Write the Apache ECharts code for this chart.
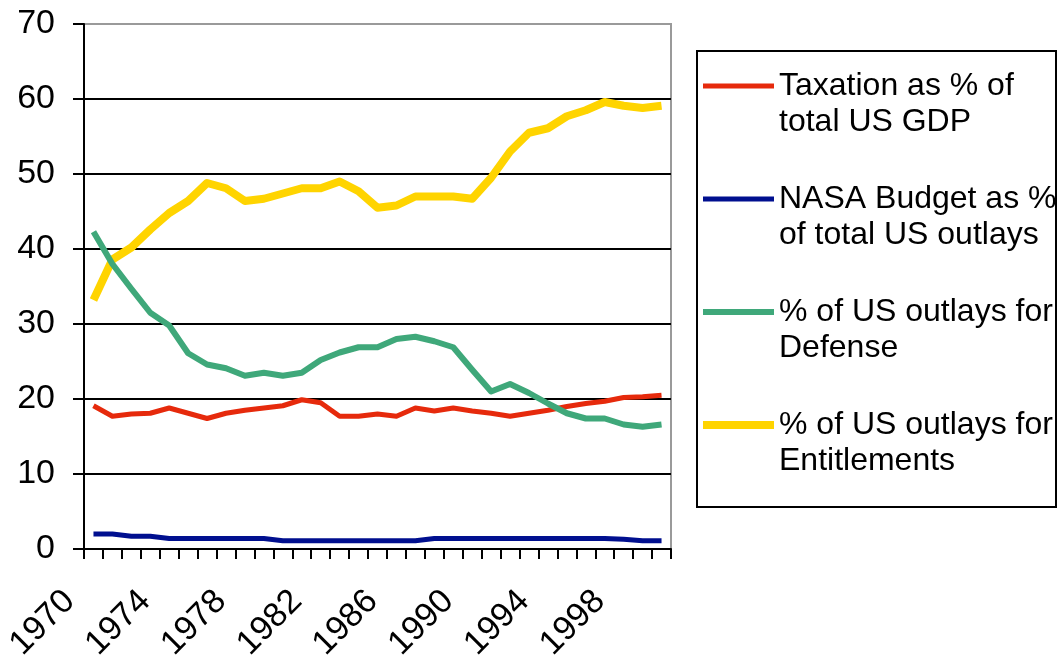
<!DOCTYPE html>
<html>
<head>
<meta charset="utf-8">
<script src="https://cdn.jsdelivr.net/npm/echarts@6/dist/echarts.min.js"></script>
<style>
  html, body { margin: 0; padding: 0; background: #fff; }
  #chart { width: 1058px; height: 656px; }
</style>
</head>
<body>
<div id="chart"></div>
<script>
// Fiscal year categories
const years = [];
for (let y = 1970; y <= 2000; y++) years.push(String(y));

// Series values (percent)
const taxation = [19.1, 17.7, 18.0, 18.1, 18.8, 18.1, 17.4, 18.1, 18.5, 18.8, 19.1, 19.9, 19.5, 17.7, 17.7, 18.0,
                  17.7, 18.8, 18.4, 18.8, 18.4, 18.1, 17.7, 18.1, 18.5, 19.0, 19.4, 19.7, 20.2, 20.3, 20.5];
const nasa = [2.0, 2.0, 1.7, 1.7, 1.4, 1.4, 1.4, 1.4, 1.4, 1.4, 1.1, 1.1, 1.1, 1.1, 1.1, 1.1,
              1.1, 1.1, 1.4, 1.4, 1.4, 1.4, 1.4, 1.4, 1.4, 1.4, 1.4, 1.4, 1.3, 1.1, 1.1];
const defense = [42.3, 38.0, 34.7, 31.5, 29.8, 26.1, 24.6, 24.1, 23.1, 23.5, 23.1, 23.5, 25.2, 26.2, 26.9, 26.9,
                 28.0, 28.3, 27.7, 26.9, 23.9, 21.0, 22.0, 20.8, 19.4, 18.1, 17.4, 17.4, 16.6, 16.3, 16.6];
const entitlements = [33.2, 38.6, 40.2, 42.6, 44.8, 46.4, 48.8, 48.1, 46.4, 46.7, 47.4, 48.1, 48.1, 49.0, 47.7, 45.5,
                      45.8, 47.0, 47.0, 47.0, 46.7, 49.5, 53.0, 55.5, 56.1, 57.7, 58.5, 59.6, 59.1, 58.8, 59.1];

const names = [
  'Taxation as % of\ntotal US GDP',
  'NASA Budget as %\nof total US outlays',
  '% of US outlays for\nDefense',
  '% of US outlays for\nEntitlements'
];
const colors = ['#E62A0C', '#000F8F', '#3FA87A', '#FFD400'];
const widths = [5, 5, 6, 8];

const FONT = '"Liberation Sans", Arial, sans-serif';
const chart = echarts.init(document.getElementById('chart'), null, { renderer: 'canvas' });

function lineSeries(i, data) {
  return {
    name: names[i], type: 'line', data,
    symbol: 'none', smooth: false,
    lineStyle: { color: colors[i], width: widths[i], join: 'round' },
    itemStyle: { color: colors[i] },
    emphasis: { disabled: true }
  };
}

// Legend swatch: a flat bar as thick as the series line
function swatch(i) {
  return 'path://M0 0H71V' + widths[i] + 'H0Z';
}

chart.setOption({
  animation: false,
  backgroundColor: '#fff',
  grid: {
    left: 84, top: 24, right: 387, bottom: 107,
    outerBoundsMode: 'none',
    containLabel: false,
    show: true, borderColor: '#9a9a9a', borderWidth: 2, backgroundColor: 'transparent'
  },
  xAxis: {
    type: 'category',
    data: years,
    boundaryGap: true,
    axisLine: { lineStyle: { color: '#000', width: 2 } },
    axisTick: { show: true, interval: 0, length: 10, lineStyle: { color: '#000', width: 2 } },
    axisLabel: {
      interval: 3, rotate: 45, color: '#000', fontSize: 34, fontFamily: FONT,
      margin: 23, padding: [0, 34, 0, 0]
    },
    splitLine: { show: false }
  },
  yAxis: {
    type: 'value',
    min: 0, max: 70, interval: 10,
    axisLine: { show: true, lineStyle: { color: '#000', width: 2 } },
    axisTick: { show: true, length: 11, lineStyle: { color: '#000', width: 2 } },
    axisLabel: { color: '#000', fontSize: 34, fontFamily: FONT, margin: 29 },
    splitLine: { show: true, showMaxLine: false, lineStyle: { color: '#000', width: 2 } }
  },
  legend: {
    orient: 'vertical',
    left: 703, top: 32,
    padding: 0,
    itemWidth: 71, itemHeight: 14,
    itemGap: 5,
    symbolKeepAspect: true,
    data: names.map((n, i) => ({ name: n, icon: swatch(i), itemStyle: { color: colors[i] } })),
    // leading blank line keeps the swatch level with the first text line
    formatter: n => '\n' + n,
    textStyle: { color: '#000', fontSize: 32, fontFamily: FONT, lineHeight: 36 }
  },
  graphic: [{
    type: 'rect',
    shape: { x: 697, y: 51, width: 359, height: 456 },
    style: { fill: 'none', stroke: '#000', lineWidth: 2 },
    silent: true
  }],
  series: [
    lineSeries(0, taxation),
    lineSeries(1, nasa),
    lineSeries(3, entitlements),
    lineSeries(2, defense)
  ]
});
</script>
</body>
</html>
